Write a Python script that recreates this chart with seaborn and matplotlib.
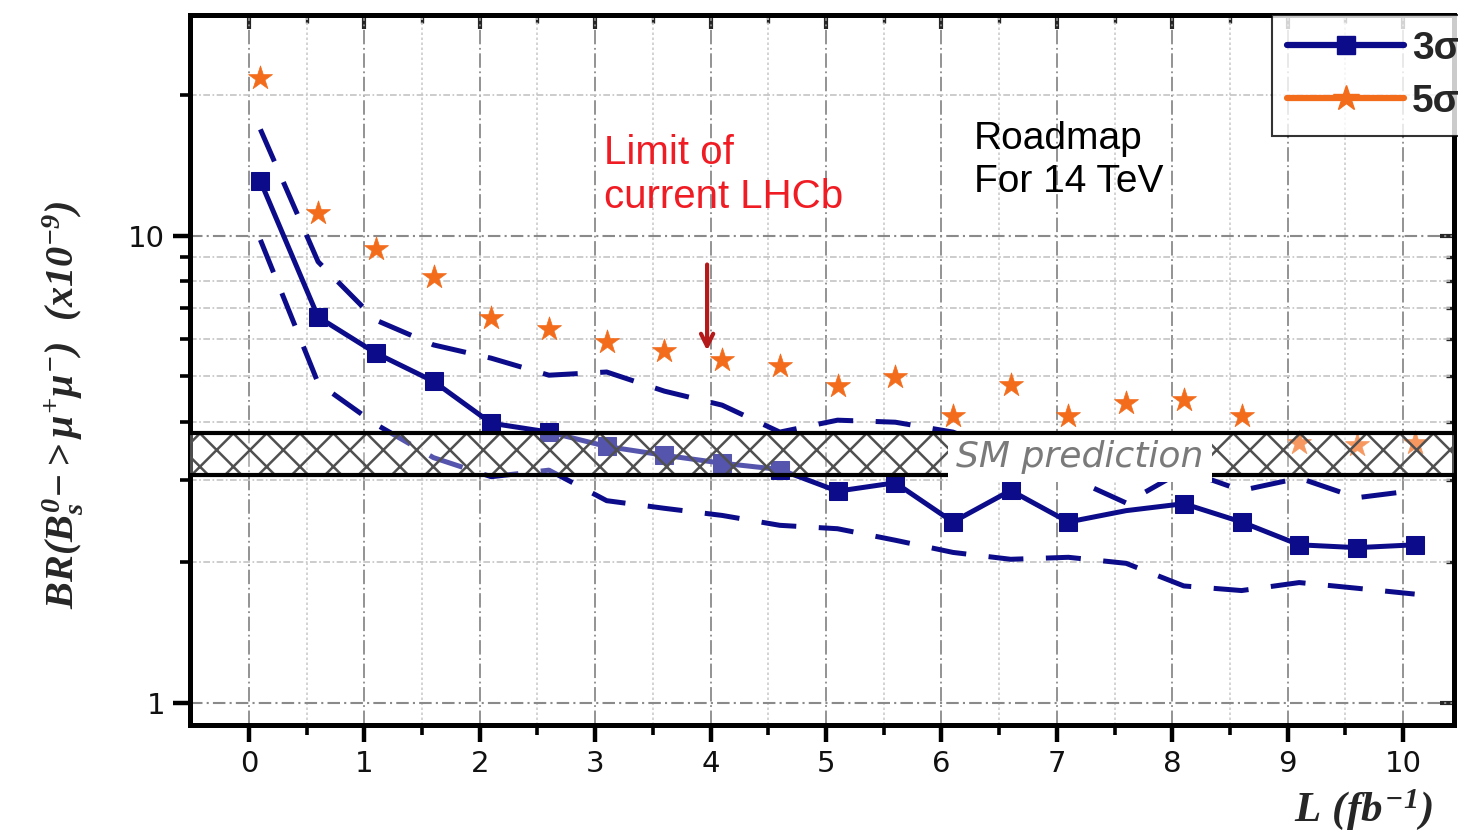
import numpy as np
import pandas as pd
import seaborn as sns
import matplotlib.pyplot as plt
from matplotlib.lines import Line2D

# luminosity points (fb^-1) and sensitivity curves
lumi = [0.1, 0.6, 1.1, 1.6, 2.1, 2.6, 3.1, 3.6, 4.1, 4.6, 5.1,
        5.6, 6.1, 6.6, 7.1, 7.6, 8.1, 8.6, 9.1, 9.6, 10.1]
br_3sigma = [13.1, 6.70, 5.61, 4.88, 3.97, 3.80, 3.54, 3.39, 3.26, 3.16, 2.84,
             2.96, 2.44, 2.85, 2.44, 2.58, 2.67, 2.44, 2.18, 2.15, 2.18]
br_3sigma_high = [16.9, 8.8, 6.6, 5.84, 5.47, 5.03, 5.11, 4.65, 4.34, 3.80, 4.03,
                  3.99, 3.80, 3.40, 3.05, 2.68, 3.15, 2.85, 3.03, 2.75, 2.85]
br_3sigma_low = [9.8, 4.84, 3.95, 3.35, 3.05, 3.15, 2.71, 2.61, 2.52, 2.40, 2.36,
                 2.23, 2.10, 2.03, 2.05, 1.99, 1.78, 1.74, 1.81, 1.76, 1.71]
br_5sigma = [21.8, 11.2, 9.38, 8.17, 6.67, 6.32, 5.93, 5.67, 5.42, 5.26, 4.77,
             4.98, 4.11, 4.79, 4.11, 4.38, 4.45, 4.11, 3.61, 3.57, 3.61]
sm_low, sm_high = 3.08, 3.78
legend_labels = ["3σ", "5σ"]

navy = "#0c0c8a"
orange = "#f36c1c"

sns.set_style("white")
plt.rcParams["font.family"] = ["Liberation Sans", "DejaVu Sans"]
plt.rcParams["mathtext.fontset"] = "custom"
plt.rcParams["mathtext.rm"] = "Liberation Serif:bold:italic"
plt.rcParams["mathtext.it"] = "Liberation Serif:bold:italic"
plt.rcParams["mathtext.bf"] = "Liberation Serif:bold:italic"
plt.rcParams["hatch.linewidth"] = 1.8
plt.rcParams["xtick.bottom"] = True
plt.rcParams["ytick.left"] = True

fig = plt.figure(figsize=(14.58, 8.36), dpi=100)
ax = fig.add_axes([0.1303, 0.1328, 0.8669, 0.8493])

df = pd.DataFrame({"L": lumi, "mid": br_3sigma, "hi": br_3sigma_high,
                   "lo": br_3sigma_low, "five": br_5sigma})

sns.lineplot(data=df, x="L", y="mid", ax=ax, color=navy, lw=3.6, marker="s",
             markersize=13, markeredgecolor=navy, sort=False, errorbar=None,
             markevery=[i for i in range(len(lumi)) if i != 15], zorder=3)
for col in ["hi", "lo"]:
    sns.lineplot(data=df, x="L", y=col, ax=ax, color=navy, lw=3.6,
                 linestyle=(0, (7, 4.5)), sort=False, errorbar=None, zorder=3)
sns.scatterplot(data=df, x="L", y="five", ax=ax, marker="*", s=330,
                color=orange, edgecolor=orange, linewidth=0.5, zorder=3)

ax.set_yscale("log")
ax.set_xlim(-0.51, 10.44)
ax.set_ylim(0.897, 29.7)

# SM prediction band
ax.axhspan(sm_low, sm_high, facecolor=(1, 1, 1, 0.3), edgecolor="#505050",
           hatch="x", lw=0, zorder=4)
ax.axhline(sm_low, color="black", lw=3, zorder=4.5)
ax.axhline(sm_high, color="black", lw=3, zorder=6)
ax.text(7.2, 3.36, "SM prediction", fontsize=26, style="italic", color="#7a7a7a",
        family="DejaVu Sans", ha="center", va="center", zorder=5,
        bbox=dict(facecolor="white", edgecolor="none", pad=6))

# ticks and grid
ax.set_xticks(range(0, 11))
ax.set_xticks(np.arange(0.5, 10.5, 1.0), minor=True)
ax.set_yticks([1, 10])
ax.set_yticklabels(["1", "10"])
ax.set_yticks([2, 3, 4, 5, 6, 7, 8, 9, 20], minor=True)
ax.yaxis.set_minor_formatter(plt.NullFormatter())
ax.grid(True, which="major", axis="x", color="#8a8a8a", lw=1.3, ls=(0, (8, 2, 1, 2)))
ax.grid(True, which="minor", axis="x", color="#cccccc", lw=1.2, ls=(0, (1.5, 1.5)))
ax.grid(True, which="major", axis="y", color="#8a8a8a", lw=1.5, ls=(0, (6, 2, 1, 2)))
ax.grid(True, which="minor", axis="y", color="#c4c4c4", lw=1.2, ls=(0, (4, 1.5, 1, 1.5)))
ax.set_axisbelow(True)

ax.tick_params(axis="both", which="major", direction="out", length=12, width=3.2,
               color="black", pad=6, bottom=True, left=True, labelsize=21)
ax.tick_params(axis="both", which="minor", direction="out", length=7, width=2.6,
               color="black", bottom=True, left=True)
for lab in ax.get_xticklabels() + ax.get_yticklabels():
    lab.set_family("DejaVu Sans")
    lab.set_color("#111111")
for side in ["left", "right", "top", "bottom"]:
    ax.spines[side].set_linewidth(3.6)
    ax.spines[side].set_color("black")

top = ax.secondary_xaxis("top")
top.set_xticks(range(0, 11))
top.set_xticks(np.arange(0.5, 10.5, 1.0), minor=True)
top.tick_params(which="major", direction="in", length=10, width=3, labeltop=False)
top.tick_params(which="minor", direction="in", length=6, width=2.4)
right = ax.secondary_yaxis("right")
right.set_yticks([1, 10])
right.set_yticks([2, 3, 4, 5, 6, 7, 8, 9, 20], minor=True)
right.tick_params(which="major", direction="in", length=10, width=3, labelright=False)
right.tick_params(which="minor", direction="in", length=6, width=2.4, labelright=False)
right.yaxis.set_minor_formatter(plt.NullFormatter())

ax.set_xlabel(r"$L\ (fb^{-1})$", fontsize=31)
ax.xaxis.set_label_coords(0.928, -0.088)
ax.set_ylabel(r"$BR(B_s^{0}{-}{>}\mu^{+}\mu^{-})\ \ (x10^{-9})$", fontsize=29)
ax.yaxis.set_label_coords(-0.083, 0.45)

# annotations
ax.text(3.08, 16.5, "Limit of\ncurrent LHCb", color="#f01c24", fontsize=29,
        ha="left", va="top", linespacing=1.2)
ax.annotate("", xy=(3.97, 5.6), xytext=(3.97, 8.8),
            arrowprops=dict(arrowstyle="->", color="#b41a1a", lw=3, mutation_scale=22))
ax.text(6.28, 17.6, "Roadmap\nFor 14 TeV", color="black", fontsize=28,
        ha="left", va="top", linespacing=1.25)

handles = [Line2D([0], [0], color=navy, lw=4.5, marker="s", markersize=13),
           Line2D([0], [0], color=orange, lw=4.5, marker="*", markersize=19)]
leg = ax.legend(handles, legend_labels, loc="upper left", bbox_to_anchor=(0.856, 1.0),
                borderaxespad=0, frameon=True, fancybox=False, handlelength=3.0,
                prop=dict(size=28, weight="bold"), handletextpad=0.2,
                borderpad=0.4, labelspacing=0.45)
leg.get_frame().set_edgecolor("black")
leg.get_frame().set_linewidth(1.5)
leg.set_zorder(10)

fig.savefig("out.png", dpi=100)
